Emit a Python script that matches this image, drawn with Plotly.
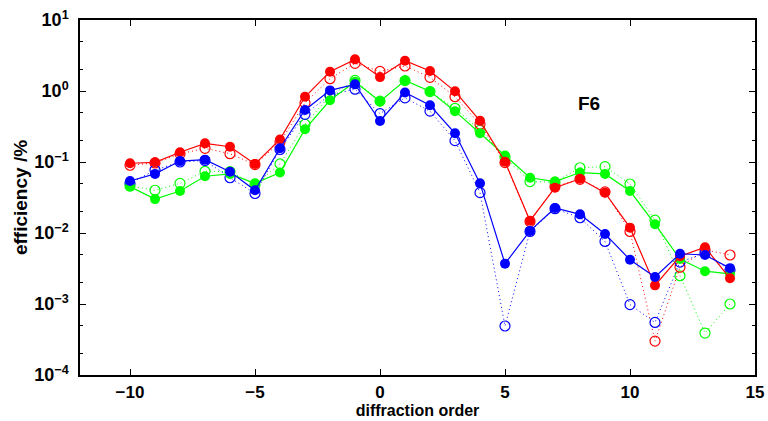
import plotly.graph_objects as go

orders = list(range(-10, 15))

red_solid = [0.096, 0.099, 0.137, 0.183, 0.164, 0.094, 0.208, 0.83, 1.87, 2.79, 1.57, 2.67, 1.91, 0.99, 0.38,
             0.101, 0.0149, 0.0435, 0.058, 0.037, 0.0119, 0.00183, 0.0047, 0.0063, 0.0023]
red_dotted = [0.09, 0.097, 0.13, 0.156, 0.131, 0.092, 0.19, 0.68, 1.49, 2.45, 1.89, 2.25, 1.56, 0.83, 0.34,
              0.098, 0.0145, 0.045, 0.057, 0.038, 0.0105, 0.00030, 0.0033, 0.0058, 0.0049]
green_solid = [0.045, 0.030, 0.039, 0.063, 0.068, 0.050, 0.071, 0.29, 0.74, 1.35, 0.71, 1.41, 0.99, 0.52, 0.254,
               0.123, 0.060, 0.053, 0.071, 0.068, 0.039, 0.0133, 0.0043, 0.0029, 0.00265]
green_dotted = [0.046, 0.040, 0.050, 0.074, 0.073, 0.048, 0.094, 0.34, 0.86, 1.41, 0.72, 1.40, 0.98, 0.57, 0.28,
                0.118, 0.053, 0.052, 0.083, 0.086, 0.049, 0.0152, 0.0025, 0.00039, 0.0010]
blue_solid = [0.054, 0.068, 0.103, 0.108, 0.073, 0.040, 0.156, 0.54, 1.02, 1.24, 0.378, 0.95, 0.63, 0.254, 0.050,
              0.0037, 0.0107, 0.0225, 0.0183, 0.0097, 0.0042, 0.0024, 0.0051, 0.0049, 0.0032]
blue_dotted = [0.050, 0.077, 0.10, 0.105, 0.060, 0.036, 0.15, 0.47, 0.88, 1.06, 0.48, 0.80, 0.52, 0.20, 0.037,
               0.00049, 0.0105, 0.022, 0.0164, 0.0076, 0.00098, 0.00055, 0.0039, 0.0052, 0.0030]

x_tick_vals = [-10, -5, 0, 5, 10, 15]
y_tick_vals = [1e-4, 1e-3, 1e-2, 1e-1, 1e0, 1e1]
y_tick_text = ["10<sup>−4</sup>", "10<sup>−3</sup>", "10<sup>−2</sup>", "10<sup>−1</sup>",
               "10<sup>0</sup>", "10<sup>1</sup>"]

RED = "#ff0000"
GREEN = "#00ff00"
BLUE = "#0000ff"

fig = go.Figure()

for vals, col in [(green_dotted, GREEN), (red_dotted, RED), (blue_dotted, BLUE)]:
    fig.add_trace(go.Scatter(
        x=orders, y=vals, mode="lines+markers",
        line=dict(color=col, width=1, dash="1px,3px"),
        marker=dict(symbol="circle-open", size=10, color=col, line=dict(width=1.2, color=col)),
        showlegend=False))

for vals, col in [(green_solid, GREEN), (red_solid, RED), (blue_solid, BLUE)]:
    fig.add_trace(go.Scatter(
        x=orders, y=vals, mode="lines+markers",
        line=dict(color=col, width=1.2),
        marker=dict(symbol="circle", size=10, color=col),
        showlegend=False))

# annotation coordinates on a log axis are given as log10 values
fig.add_annotation(x=8.35, y=-0.17, xref="x", yref="y", yanchor="middle", text="<b>F6</b>",
                   showarrow=False, font=dict(family="Liberation Sans", size=19, color="black"))

xtickfont = dict(family="Liberation Sans", size=17, color="black", weight="bold")
ytickfont = dict(family="Liberation Sans", size=18, color="black", weight="bold")

fig.update_layout(
    width=768, height=421,
    margin=dict(l=80, r=13, t=20, b=46),
    plot_bgcolor="white", paper_bgcolor="white",
    font=dict(family="Liberation Sans", color="black"),
    xaxis=dict(
        range=[-12, 15], tickvals=x_tick_vals, automargin=False,
        ticks="inside", ticklen=6, tickcolor="black", mirror="ticks",
        showline=True, linecolor="black", linewidth=1.5,
        showgrid=False, zeroline=False, tickfont=xtickfont, ticklabelstandoff=1,
        title=dict(text="<b>diffraction order</b>", font=dict(family="Liberation Sans", size=16), standoff=3),
    ),
    yaxis=dict(
        type="log", range=[-4, 1], tickvals=y_tick_vals, ticktext=y_tick_text, automargin=False,
        ticks="inside", ticklen=6, tickcolor="black", mirror="ticks",
        showline=True, linecolor="black", linewidth=1.5,
        showgrid=False, zeroline=False, tickfont=ytickfont, ticklabelstandoff=6,
        minor=dict(ticks="inside", ticklen=3, tickcolor="black", showgrid=False),
        title=dict(text="<b>efficiency /%</b>", font=dict(family="Liberation Sans", size=19), standoff=2),
    ),
)

fig.write_html("out.html")
